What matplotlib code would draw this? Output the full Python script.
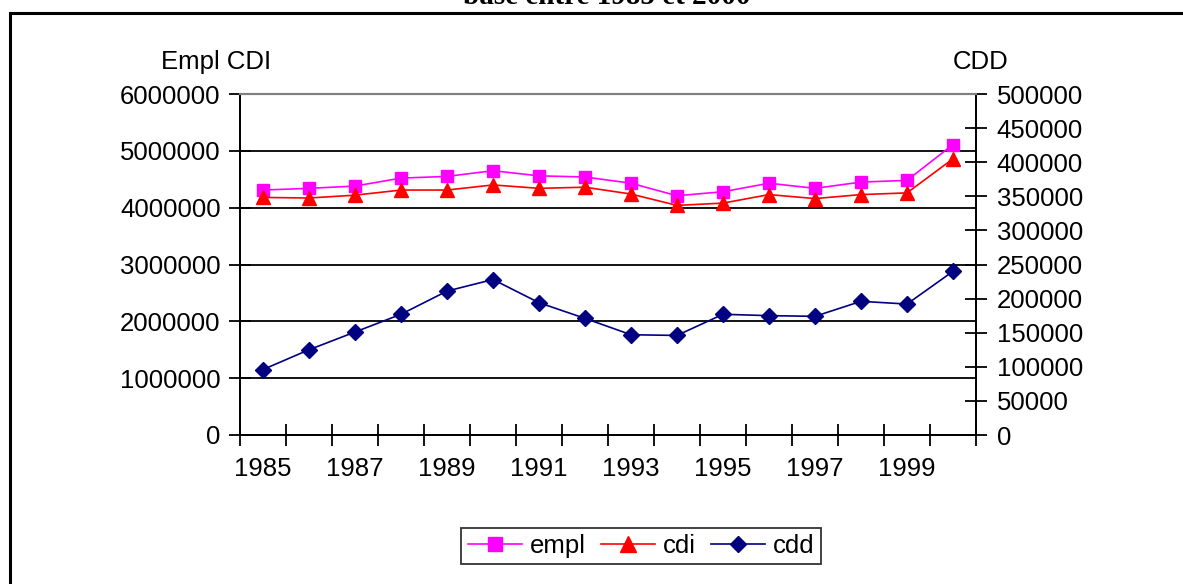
import numpy as np
import matplotlib.pyplot as plt
from matplotlib.patches import Rectangle
from matplotlib.lines import Line2D

# Données
annees = list(range(1985, 2001))

empl = [4310000, 4340000, 4380000, 4520000, 4550000, 4650000, 4560000, 4540000,
        4430000, 4210000, 4280000, 4430000, 4340000, 4450000, 4480000, 5110000]

cdi = [4180000, 4170000, 4220000, 4310000, 4310000, 4400000, 4340000, 4360000,
       4240000, 4040000, 4080000, 4230000, 4160000, 4230000, 4260000, 4860000]

cdd = [96000, 125000, 151000, 177000, 211000, 228000, 194000, 171000,
       147000, 146000, 177000, 175000, 174000, 196000, 192000, 240000]

ticks_gauche = [0, 1000000, 2000000, 3000000, 4000000, 5000000, 6000000]
ticks_droite = [0, 50000, 100000, 150000, 200000, 250000, 300000, 350000, 400000, 450000, 500000]

plt.rcParams['font.family'] = ['Liberation Sans', 'DejaVu Sans']
taille = 18.5

fig = plt.figure(figsize=(11.83, 5.84), dpi=100)
ax = fig.add_axes([240 / 1183, 1 - 435 / 584, 736 / 1183, 341 / 584])
ax2 = ax.twinx()

x = np.arange(len(annees))

# Grille horizontale
for v in ticks_gauche[1:-1]:
    ax.axhline(v, color='black', linewidth=1.3, zorder=0)

ax.plot(x, empl, color='#FF00FF', marker='s', markersize=9, linewidth=1.2,
        clip_on=False, zorder=3)
ax.plot(x, cdi, color='#FF0000', marker='^', markersize=10, linewidth=1.2,
        clip_on=False, zorder=3)
ax2.plot(x, cdd, color='#000080', marker='D', markersize=8, linewidth=1.2,
         clip_on=False, zorder=3)

ax.set_xlim(-0.5, len(annees) - 0.5)
ax.set_ylim(0, 6000000)
ax2.set_ylim(0, 500000)

ax.set_xticks(np.arange(-0.5, len(annees), 1.0))
ax.set_xticklabels([])
ax.set_xticks(x[::2], minor=True)
ax.set_xticklabels([str(a) for a in annees[::2]], minor=True, fontsize=taille)
ax.tick_params(axis='x', which='major', direction='inout', length=16, width=1.3)
ax.tick_params(axis='x', which='minor', length=0, pad=16)

ax.set_yticks(ticks_gauche)
ax.set_yticklabels([str(v) for v in ticks_gauche], fontsize=taille)
ax.tick_params(axis='y', direction='inout', length=16, width=1.3, pad=6)

ax2.set_yticks(ticks_droite)
ax2.set_yticklabels([str(v) for v in ticks_droite], fontsize=taille)
ax2.tick_params(axis='y', direction='inout', length=16, width=1.3, pad=7)

for a in (ax, ax2):
    a.spines['left'].set_linewidth(1.3)
    a.spines['right'].set_linewidth(1.3)
    a.spines['bottom'].set_linewidth(1.3)
    a.spines['top'].set_color('#808080')
    a.spines['top'].set_linewidth(1.5)

fig.text(216 / 1183, 1 - 62 / 584, 'Empl CDI', fontsize=taille, ha='center', va='center')
fig.text(981 / 1183, 1 - 62 / 584, 'CDD', fontsize=taille, ha='center', va='center')

# Titre (coupé en haut comme dans l'original)
fig.text(607 / 1183, 1 - 4 / 584, 'base entre 1985 et 2000', fontsize=21,
         fontweight='bold', family=['Liberation Serif', 'DejaVu Serif'],
         ha='center', va='baseline')

# Cadre du graphique
fig.patches.append(Rectangle((10 / 1183, -0.1), 1.2, 1 - 13 / 584 + 0.1,
                             transform=fig.transFigure, fill=False,
                             edgecolor='black', linewidth=2.2))

poignees = [
    Line2D([], [], color='#FF00FF', marker='s', markersize=10, linewidth=1.2),
    Line2D([], [], color='#FF0000', marker='^', markersize=11, linewidth=1.2),
    Line2D([], [], color='#000080', marker='D', markersize=8, linewidth=1.2),
]
leg = fig.legend(poignees, ['empl', 'cdi', 'cdd'], loc='center',
                 bbox_to_anchor=(641 / 1183, 1 - 546 / 584), ncol=3,
                 fontsize=taille, frameon=True, fancybox=False, handlelength=2.1,
                 handletextpad=0.3, columnspacing=0.6, borderpad=0.25,
                 borderaxespad=0)
leg.get_frame().set_edgecolor('black')
leg.get_frame().set_linewidth(1.3)

fig.savefig('out.png', dpi=100)
